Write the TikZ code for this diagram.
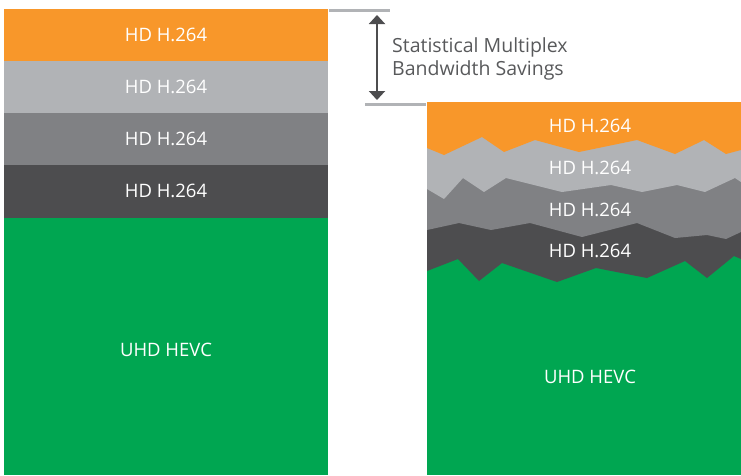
\documentclass[tikz,border=0pt]{standalone}
\usepackage{fontspec}
\setmainfont{Open Sans}
\usetikzlibrary{arrows.meta}
\definecolor{hdorange}{HTML}{F8972A}
\definecolor{hdlight}{HTML}{B1B3B6}
\definecolor{hdmid}{HTML}{808184}
\definecolor{hddark}{HTML}{4D4D4F}
\definecolor{uhdgreen}{HTML}{00A651}
\definecolor{notegray}{HTML}{58595B}
\tikzstyle{layer}=[white,font=\fontsize{18.5}{22}\selectfont]
\tikzstyle{guide}=[draw=hdlight,line width=2.5pt]
\tikzstyle{span}=[draw=hddark,line width=2pt,{Triangle[width=16pt,length=9pt]}-{Triangle[width=16pt,length=9pt]}]
\tikzstyle{note}=[notegray,font=\fontsize{19.5}{23.5}\selectfont,align=left,anchor=west,inner sep=0pt]

\begin{document}
\begin{tikzpicture}[x=1pt,y=-1pt]
    \useasboundingbox (0,0) rectangle (741,475);

    % left column: plain stack
    \foreach \top/\bot/\col in {9/61/hdorange, 61/113/hdlight, 113/165/hdmid, 165/218/hddark, 218/475/uhdgreen}
        \fill[\col] (4,\top) rectangle (328,\bot);

    \foreach \y/\name in {35/a, 87/b, 139/c, 191/d}
        \node[layer] (left\name) at (166,\y) {HD H.264};
    \node[layer] (leftuhd) at (166,350) {UHD HEVC};

    % right column: jagged stack, painted bottom up
    \fill[uhdgreen] (427,102) rectangle (741,475);
    \fill[hddark] (427,102) -- (427,271) -- (458,259) -- (479,281) -- (502,263) -- (557,282) -- (596,268)
        -- (647,278) -- (685,261) -- (707,278) -- (734,256) -- (741,259) -- (741,102) -- cycle;
    \fill[hdmid] (427,102) -- (427,230) -- (459,223) -- (491,230) -- (530,223) -- (582,237) -- (637,223)
        -- (675,238) -- (707,235) -- (726,239) -- (741,232) -- (741,102) -- cycle;
    \fill[hdlight] (427,102) -- (427,189) -- (444,199) -- (463,178) -- (484,192) -- (506,178) -- (562,192)
        -- (611,185) -- (642,192) -- (677,185) -- (705,192) -- (735,178) -- (741,182) -- (741,102) -- cycle;
    \fill[hdorange] (427,102) -- (427,148) -- (444,155) -- (482,137) -- (504,152) -- (535,140) -- (579,152)
        -- (637,140) -- (675,154) -- (704,140) -- (726,154) -- (741,150) -- (741,102) -- cycle;

    \foreach \y/\name in {126/a, 168/b, 210/c, 251/d}
        \node[layer] (right\name) at (590,\y) {HD H.264};
    \node[layer] (rightuhd) at (590,377) {UHD HEVC};

    % savings marker
    \coordinate (topstart) at (329,10.5);
    \coordinate (topstop) at (390,10.5);
    \coordinate (botstart) at (365,104.5);
    \coordinate (botstop) at (426,104.5);
    \coordinate (arrtop) at (377,15);
    \coordinate (arrbot) at (377,100);
    \draw[guide] (topstart) -- (topstop);
    \draw[guide] (botstart) -- (botstop);
    \draw[span] (arrtop) -- (arrbot);
    \node[note] (savings) at (392,59) {Statistical Multiplex\\Bandwidth Savings};
\end{tikzpicture}
\end{document}
